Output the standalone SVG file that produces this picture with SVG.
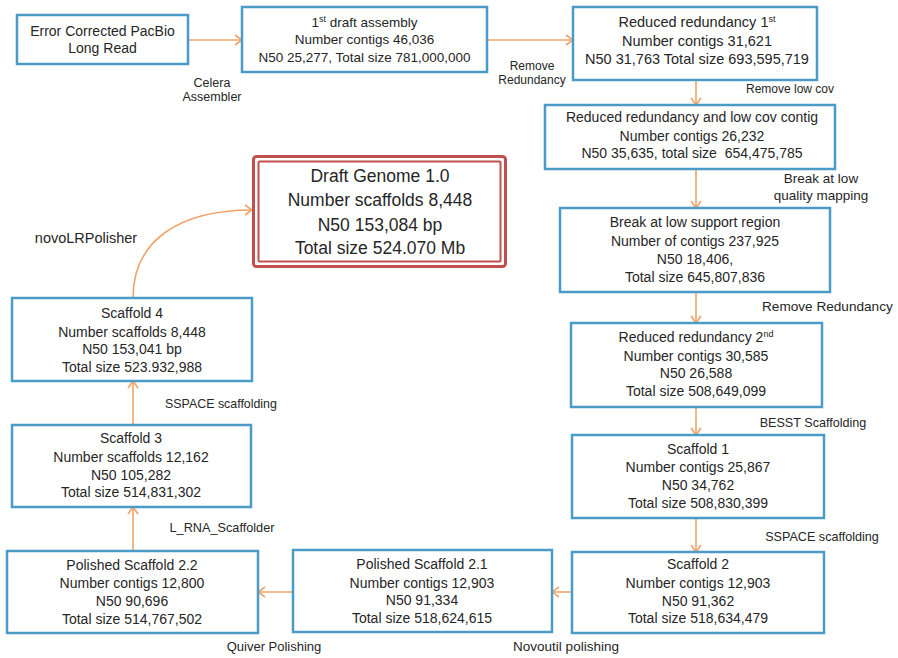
<svg xmlns="http://www.w3.org/2000/svg" width="898" height="658" viewBox="0 0 898 658">
<style>
.box{fill:#ffffff;stroke:#4a9bc7;stroke-width:2.5}
.t{font-family:"Liberation Sans",Arial,sans-serif;font-size:14px;fill:#262626;text-anchor:middle}
.t2{font-size:13.5px}
.t3{font-size:14.5px}
.big{font-family:"Liberation Sans",Arial,sans-serif;font-size:17.5px;fill:#262626;text-anchor:middle}
.lbl{font-family:"Liberation Sans",Arial,sans-serif;font-size:12px;fill:#262626;text-anchor:middle}
.conn{fill:none;stroke:#f0a46a;stroke-width:1.6}
.sup{font-size:9px}
</style>
<defs>
<marker id="ah" markerUnits="userSpaceOnUse" markerWidth="12" markerHeight="12" viewBox="0 0 12 12" refX="11" refY="6" orient="auto">
<path d="M4,1 L11,6 L4,11" fill="none" stroke="#f0a46a" stroke-width="1.6"/>
</marker>
</defs>
<rect width="898" height="658" fill="#ffffff"/>

<g id="connectors">
<path class="conn" marker-end="url(#ah)" d="M188,40 L242,40"/>
<path class="conn" marker-end="url(#ah)" d="M487,40 L573,40"/>
<path class="conn" marker-end="url(#ah)" d="M696,80 L696,105"/>
<path class="conn" marker-end="url(#ah)" d="M696,169 L696,208"/>
<path class="conn" marker-end="url(#ah)" d="M696,292 L696,323"/>
<path class="conn" marker-end="url(#ah)" d="M696,407 L696,435"/>
<path class="conn" marker-end="url(#ah)" d="M696,518 L696,552"/>
<path class="conn" marker-end="url(#ah)" d="M572,592 L552,592"/>
<path class="conn" marker-end="url(#ah)" d="M293,592 L258,592"/>
<path class="conn" marker-end="url(#ah)" d="M133,551 L133,507"/>
<path class="conn" marker-end="url(#ah)" d="M133,425 L133,381"/>
<path class="conn" marker-end="url(#ah)" d="M133,298 C133,240 180,210 252,210"/>
<text class="lbl" x="212" y="87" style="font-size:12.5px">Celera</text>
<text class="lbl" x="212" y="101" style="font-size:12.5px">Assembler</text>
<text class="lbl" x="532" y="70">Remove</text>
<text class="lbl" x="532" y="84">Redundancy</text>
<text class="lbl" x="790" y="93">Remove low cov</text>
<text class="lbl" x="821" y="183" style="font-size:13.5px">Break at low</text>
<text class="lbl" x="821" y="200" style="font-size:13.5px">quality mapping</text>
<text class="lbl" x="762" y="311" style="font-size:13.6px;text-anchor:start">Remove Redundancy</text>
<text class="lbl" x="813" y="427" style="font-size:12.6px">BESST Scaffolding</text>
<text class="lbl" x="822" y="541" style="font-size:12.6px">SSPACE scaffolding</text>
<text class="lbl" x="566" y="651" style="font-size:13.5px">Novoutil polishing</text>
<text class="lbl" x="274" y="651" style="font-size:13px">Quiver Polishing</text>
<text class="lbl" x="222" y="532" style="font-size:12.7px">L_RNA_Scaffolder</text>
<text class="lbl" x="221" y="408" style="font-size:12.4px">SSPACE scaffolding</text>
<text class="lbl" x="86" y="243" style="font-size:14.5px">novoLRPolisher</text>
</g>

<g id="n1">
<rect class="box" x="17" y="15" width="171" height="49"/>
<text class="t" x="102.5" y="36">Error Corrected PacBio</text>
<text class="t" x="102.5" y="53">Long Read</text>
</g>

<g id="n2">
<rect class="box" x="242" y="7" width="245" height="65"/>
<text class="t t2" x="364.5" y="27">1<tspan class="sup" dy="-5">st</tspan><tspan dy="5"> draft assembly</tspan></text>
<text class="t t2" x="364.5" y="44">Number contigs 46,036</text>
<text class="t t2" x="364.5" y="62">N50 25,277, Total size 781,000,000</text>
</g>

<g id="n3">
<rect class="box" x="573" y="7" width="244" height="73"/>
<text class="t t3" x="697" y="27">Reduced redundancy 1<tspan class="sup" dy="-5">st</tspan></text>
<text class="t t3" x="697" y="46">Number contigs 31,621</text>
<text class="t t3" x="697" y="64">N50 31,763 Total size 693,595,719</text>
</g>

<g id="n4">
<rect class="box" x="545" y="105" width="290" height="64"/>
<text class="t" x="692" y="122">Reduced redundancy and low cov contig</text>
<text class="t" x="692" y="141">Number contigs 26,232</text>
<text class="t" x="692" y="158" xml:space="preserve">N50 35,635, total size  654,475,785</text>
</g>

<g id="n5">
<rect class="box" x="560" y="208" width="270" height="84"/>
<text class="t" x="695" y="227">Break at low support region</text>
<text class="t" x="695" y="246">Number of contigs 237,925</text>
<text class="t" x="695" y="264">N50 18,406,</text>
<text class="t" x="695" y="282">Total size 645,807,836</text>
</g>

<g id="n6">
<rect class="box" x="571" y="323" width="251" height="84"/>
<text class="t" x="696" y="342">Reduced redundancy 2<tspan class="sup" dy="-5">nd</tspan></text>
<text class="t" x="696" y="361">Number contigs 30,585</text>
<text class="t" x="696" y="378">N50 26,588</text>
<text class="t" x="696" y="396">Total size 508,649,099</text>
</g>

<g id="n7">
<rect class="box" x="572" y="435" width="252" height="83"/>
<text class="t" x="698" y="454">Scaffold 1</text>
<text class="t" x="698" y="472">Number contigs 25,867</text>
<text class="t" x="698" y="490">N50 34,762</text>
<text class="t" x="698" y="508">Total size 508,830,399</text>
</g>

<g id="n8">
<rect class="box" x="572" y="552" width="252" height="81"/>
<text class="t" x="698" y="569">Scaffold 2</text>
<text class="t" x="698" y="588">Number contigs 12,903</text>
<text class="t" x="698" y="606">N50 91,362</text>
<text class="t" x="698" y="623">Total size 518,634,479</text>
</g>

<g id="n9">
<rect class="box" x="293" y="550" width="259" height="82"/>
<text class="t" x="422" y="569">Polished Scaffold 2.1</text>
<text class="t" x="422" y="588">Number contigs 12,903</text>
<text class="t" x="422" y="605">N50 91,334</text>
<text class="t" x="422" y="623">Total size 518,624,615</text>
</g>

<g id="n10">
<rect class="box" x="7" y="551" width="251" height="82"/>
<text class="t" x="132" y="570">Polished Scaffold 2.2</text>
<text class="t" x="132" y="588">Number contigs 12,800</text>
<text class="t" x="132" y="606">N50 90,696</text>
<text class="t" x="132" y="624">Total size 514,767,502</text>
</g>

<g id="n11">
<rect class="box" x="12" y="425" width="239" height="82"/>
<text class="t" x="131" y="443">Scaffold 3</text>
<text class="t" x="131" y="462">Number scaffolds 12,162</text>
<text class="t" x="131" y="480">N50 105,282</text>
<text class="t" x="131" y="497">Total size 514,831,302</text>
</g>

<g id="n12">
<rect class="box" x="12" y="298" width="240" height="83"/>
<text class="t" x="132" y="318">Scaffold 4</text>
<text class="t" x="132" y="337">Number scaffolds 8,448</text>
<text class="t" x="132" y="354">N50 153,041 bp</text>
<text class="t" x="132" y="372">Total size 523.932,988</text>
</g>

<g id="n13">
<rect x="253.5" y="156.5" width="252" height="110" rx="3" fill="#ffffff" stroke="#c0504d" stroke-width="3"/>
<rect x="258.5" y="161.5" width="242" height="100" rx="1" fill="none" stroke="#c0504d" stroke-width="2"/>
<text class="big" x="380" y="182">Draft Genome 1.0</text>
<text class="big" x="380" y="206">Number scaffolds 8,448</text>
<text class="big" x="380" y="231">N50 153,084 bp</text>
<text class="big" x="380" y="254">Total size 524.070 Mb</text>
</g>
</svg>
